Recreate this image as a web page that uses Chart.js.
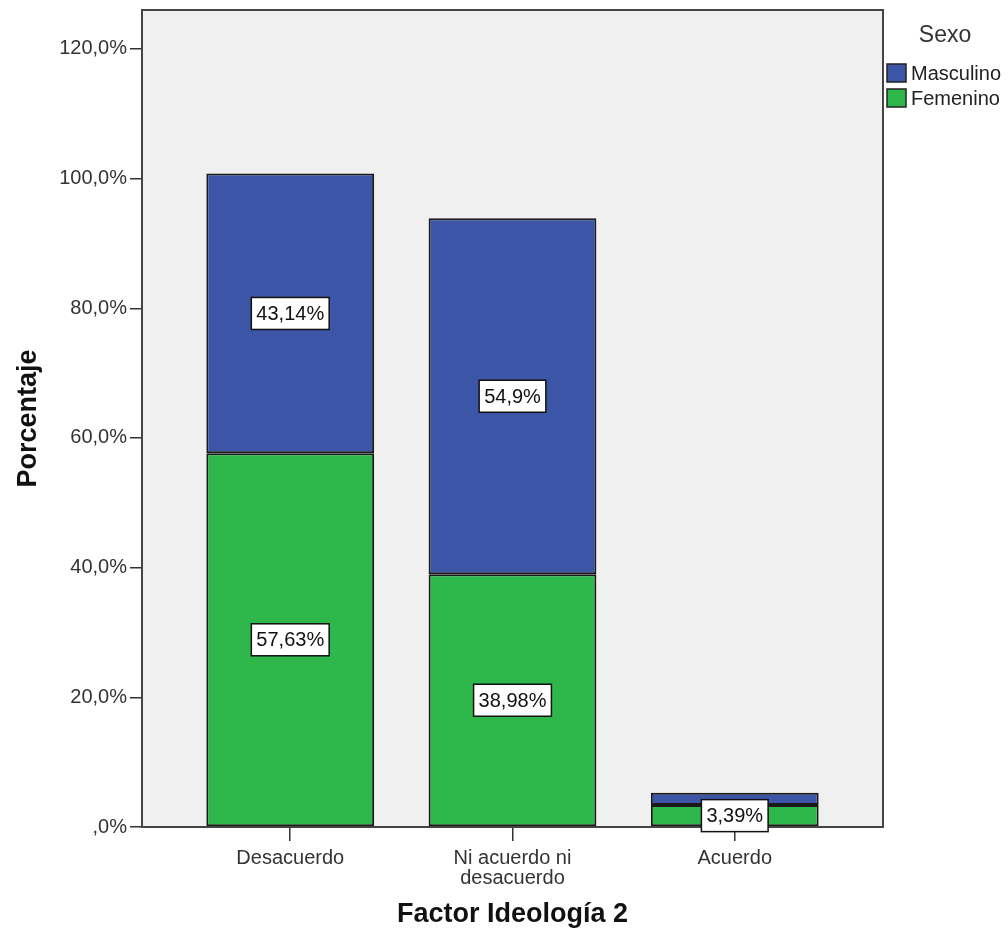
<!DOCTYPE html>
<html>
<head>
<meta charset="utf-8">
<title>Factor Ideología 2</title>
<script src="https://cdn.jsdelivr.net/npm/chart.js@4"></script>
<style>
  body { margin: 0; background: #fff; }
</style>
</head>
<body>
<canvas id="ideologyChart" width="1008" height="939"></canvas>
<script>
// categories on the x axis
const categories = ['Desacuerdo', ['Ni acuerdo ni', 'desacuerdo'], 'Acuerdo'];
// stacked percentages per sex
const femenino = [57.63, 38.98, 3.39];
const masculino = [43.14, 54.9, 1.9];
// text in the white label boxes (null = not shown)
const femeninoLabels = ['57,63%', '38,98%', '3,39%'];
const masculinoLabels = ['43,14%', '54,9%', null];
// y axis ticks
const yTicks = [0, 20, 40, 60, 80, 100, 120];
const yTickLabels = [',0%', '20,0%', '40,0%', '60,0%', '80,0%', '100,0%', '120,0%'];

const FONT = 'Arial, "Liberation Sans", sans-serif';
const BLUE = '#3d55a7';
const GREEN = '#2eb84c';

// grey plot background + frame
const plotFrame = {
    id: 'plotFrame',
    beforeDraw(chart) {
        const { ctx, chartArea: a } = chart;
        ctx.save();
        ctx.fillStyle = '#f0f0f0';
        ctx.fillRect(a.left, a.top, a.right - a.left, a.bottom - a.top);
        ctx.restore();
    },
    afterDatasetsDraw(chart) {
        const { ctx, chartArea: a } = chart;
        ctx.save();
        ctx.strokeStyle = '#444';
        ctx.lineWidth = 2;
        ctx.strokeRect(a.left, a.top, a.right - a.left, a.bottom - a.top);
        ctx.restore();
    }
};

// boxed value labels in the middle of each segment
const boxLabels = {
    id: 'boxLabels',
    afterDraw(chart) {
        const ctx = chart.ctx;
        const texts = [femeninoLabels, masculinoLabels];
        ctx.save();
        ctx.font = '20px ' + FONT;
        ctx.textAlign = 'center';
        ctx.textBaseline = 'middle';
        chart.data.datasets.forEach((ds, d) => {
            chart.getDatasetMeta(d).data.forEach((bar, i) => {
                const txt = texts[d][i];
                if (!txt) return;
                const cx = bar.x;
                const cy = (bar.y + bar.base) / 2;
                const w = ctx.measureText(txt).width + 10;
                const h = 32;
                ctx.fillStyle = '#fff';
                ctx.fillRect(cx - w / 2, cy - h / 2, w, h);
                ctx.strokeStyle = '#111';
                ctx.lineWidth = 1.5;
                ctx.strokeRect(cx - w / 2, cy - h / 2, w, h);
                ctx.fillStyle = '#111';
                ctx.fillText(txt, cx, cy + 1);
            });
        });
        ctx.restore();
    }
};

// SPSS style legend to the right of the plot
const sideLegend = {
    id: 'sideLegend',
    afterDraw(chart) {
        const { ctx, chartArea: a } = chart;
        const x0 = a.right + 4;
        ctx.save();
        ctx.fillStyle = '#333';
        ctx.font = '23px ' + FONT;
        ctx.textAlign = 'center';
        ctx.textBaseline = 'middle';
        ctx.fillText('Sexo', x0 + 58, a.top + 26);
        ctx.textAlign = 'left';
        ctx.font = '20px ' + FONT;
        const items = [chart.data.datasets[1], chart.data.datasets[0]];
        items.forEach((ds, k) => {
            const y = a.top + 54 + k * 25;
            ctx.fillStyle = ds.backgroundColor;
            ctx.fillRect(x0, y, 19, 18);
            ctx.strokeStyle = '#222';
            ctx.lineWidth = 1.5;
            ctx.strokeRect(x0, y, 19, 18);
            ctx.fillStyle = '#222';
            ctx.fillText(ds.label, x0 + 24, y + 10);
        });
        ctx.restore();
    }
};

new Chart(document.getElementById('ideologyChart'), {
    type: 'bar',
    data: {
        datasets: [
            {
                label: 'Femenino',
                data: femenino.map((v, i) => ({ x: i, y: v })),
                backgroundColor: GREEN,
                borderColor: '#1a1a1a',
                borderWidth: 2,
                borderSkipped: false
            },
            {
                label: 'Masculino',
                data: masculino.map((v, i) => ({ x: i, y: v })),
                backgroundColor: BLUE,
                borderColor: '#1a1a1a',
                borderWidth: 2,
                borderSkipped: false
            }
        ]
    },
    options: {
        responsive: false,
        animation: false,
        barPercentage: 0.755,
        categoryPercentage: 1,
        layout: { padding: { top: 10, right: 125, left: 0, bottom: 0 } },
        plugins: {
            legend: { display: false },
            tooltip: { enabled: false }
        },
        scales: {
            x: {
                type: 'linear',
                min: -0.667,
                max: 2.667,
                offset: false,
                stacked: true,
                afterBuildTicks: s => { s.ticks = categories.map((c, i) => ({ value: i })); },
                afterFit: s => { s.height = 112; },
                ticks: {
                    callback: v => categories[v],
                    font: { family: FONT, size: 20, lineHeight: 1 },
                    color: '#333',
                    padding: 7,
                    maxRotation: 0,
                    autoSkip: false
                },
                grid: { offset: false, drawOnChartArea: false, drawTicks: true, tickLength: 14, color: '#333', lineWidth: 1.5 },
                border: { display: true, color: '#333', width: 2 },
                title: {
                    display: true,
                    text: 'Factor Ideología 2',
                    font: { family: FONT, size: 27, weight: 'bold' },
                    color: '#111',
                    padding: { top: 0, bottom: 8 }
                }
            },
            y: {
                min: 0,
                max: 126,
                stacked: true,
                afterBuildTicks: s => { s.ticks = yTicks.map(v => ({ value: v })); },
                afterFit: s => { s.width = 142; s.paddingTop = 0; },
                ticks: {
                    callback: v => yTickLabels[yTicks.indexOf(v)],
                    font: { family: FONT, size: 20 },
                    color: '#333',
                    padding: 3
                },
                grid: { drawOnChartArea: false, drawTicks: true, tickLength: 12, color: '#333', lineWidth: 1.5 },
                border: { display: true, color: '#333', width: 2 },
                title: {
                    display: true,
                    text: 'Porcentaje',
                    font: { family: FONT, size: 27, weight: 'bold' },
                    color: '#111',
                    padding: { top: 12, bottom: 0 }
                }
            }
        }
    },
    plugins: [plotFrame, boxLabels, sideLegend]
});
</script>
</body>
</html>
